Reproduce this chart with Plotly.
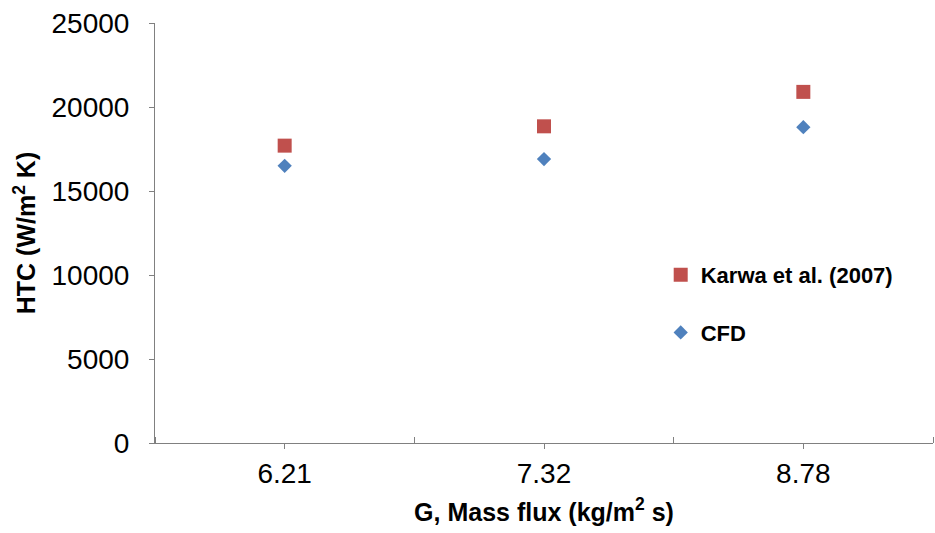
import plotly.graph_objects as go

categories = ["6.21", "7.32", "8.78"]
karwa = [17700, 18850, 20900]
cfd = [16500, 16900, 18800]
y_ticks = [0, 5000, 10000, 15000, 20000, 25000]

xpos = list(range(len(categories)))

fig = go.Figure()
fig.add_trace(go.Scatter(
    x=xpos, y=karwa, mode="markers", name="<b>Karwa et al. (2007)</b>",
    marker=dict(symbol="square", size=14, color="#C0504D"),
    legendgroup="a"))
fig.add_trace(go.Scatter(
    x=xpos, y=cfd, mode="markers", name="<b>CFD</b>",
    marker=dict(symbol="diamond", size=11, color="#4F81BD"),
    legendgroup="b"))

font_family = "Liberation Sans, Arial, sans-serif"

fig.update_layout(
    width=935, height=533,
    margin=dict(l=155, r=2, t=23, b=90),
    plot_bgcolor="white", paper_bgcolor="white",
    font=dict(family=font_family, color="black"),
    showlegend=True,
    legend=dict(x=0.65, y=0.45, xanchor="left", yanchor="top",
                bgcolor="rgba(0,0,0,0)", font=dict(size=22, family=font_family),
                tracegroupgap=26, traceorder="grouped", itemwidth=30),
    xaxis=dict(
        range=[-0.5, 2.5], tickmode="array", tickvals=xpos, ticktext=categories,
        showgrid=False, zeroline=False, showline=True, linecolor="#808080", linewidth=1,
        ticks="outside", ticklen=5, tickcolor="#808080",
        tickfont=dict(size=28),
        minor=dict(tickmode="array", tickvals=[-0.5, 0.5, 1.5, 2.5], ticks="inside",
                   ticklen=6, tickcolor="#808080", showgrid=False),
        title=dict(text="<b>G, Mass flux (kg/m<sup>2</sup> s)</b>", font=dict(size=25), standoff=15),
    ),
    yaxis=dict(
        range=[0, 25000], tickmode="array", tickvals=y_ticks,
        ticktext=[str(v) for v in y_ticks],
        showgrid=False, zeroline=False, showline=True, linecolor="#808080", linewidth=1,
        ticks="outside", ticklen=5, tickcolor="#808080", ticklabelstandoff=14,
        tickfont=dict(size=28),
        title=dict(text="<b>HTC (W/m<sup>2</sup> K)</b>", font=dict(size=25), standoff=8),
    ),
)

fig.write_html("out.html")
